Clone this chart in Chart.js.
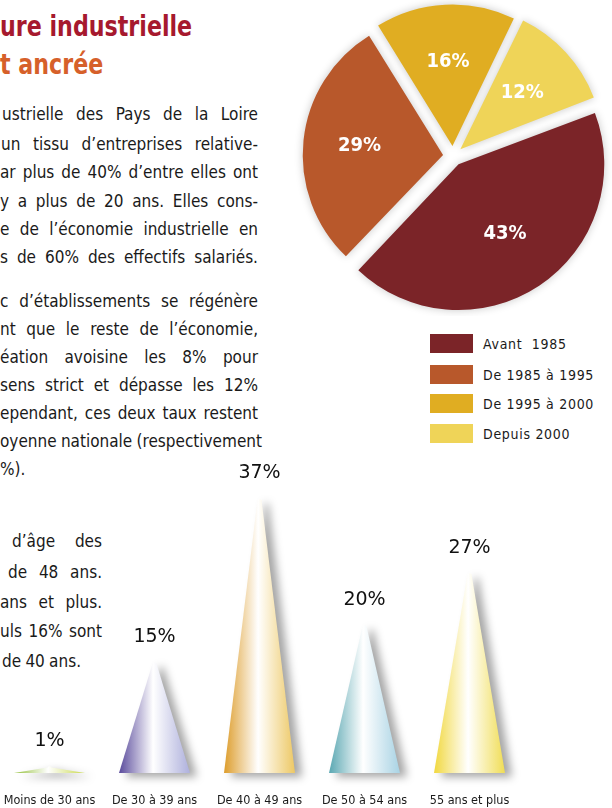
<!DOCTYPE html>
<html lang="fr">
<head>
<meta charset="utf-8">
<script src="https://cdn.jsdelivr.net/npm/chart.js@4.4.1/dist/chart.umd.min.js"></script>
<style>
  html, body { margin: 0; padding: 0; background: #fff; }
  body {
    width: 612px; height: 808px; position: relative; overflow: hidden;
    font-family: "DejaVu Sans Condensed", "DejaVu Sans", sans-serif;
    color: #1a1a1a;
  }
  .title {
    position: absolute; left: 0; font-weight: bold; font-size: 29px; line-height: 30px;
    white-space: nowrap; transform: scaleX(0.85); transform-origin: 0 0;
  }
  .line { position: absolute; font-size: 17px; line-height: 20px; white-space: nowrap; display: flex; }
  .line.just { justify-content: space-between; }
  .line span + span { margin-left: 0.25em; }
  .legend-row { position: absolute; left: 430px; height: 19px; }
  .legend-row .sw { position: absolute; left: 0; top: 0; width: 43px; height: 19px; }
  .legend-row .tx { position: absolute; left: 53px; top: 1px; font-size: 14px; line-height: 18px; white-space: pre; letter-spacing: 0.7px; }
  canvas { position: absolute; }
  #pieChart  { left: 293px; top: -4px; }
  #coneChart { left: -3px; top: 450px; }
</style>
</head>
<body>

<div class="title" style="top:11px;color:#a6192e">ure industrielle</div>
<div class="title" style="top:49px;color:#d6602a">t ancrée</div>

<div id="text"></div>
<div id="legend"></div>

<canvas id="pieChart" width="320" height="320"></canvas>
<canvas id="coneChart" width="525" height="361"></canvas>

<script>
/* ── Data ──────────────────────────────────────────────── */
const pieLabels = ["Avant  1985", "De 1985 à 1995", "De 1995 à 2000", "Depuis 2000"];
const pieValues = [43, 29, 16, 12];
const pieColors = ["#7b2428", "#b8582b", "#e0ad22", "#efd458"];

const ageLabels = ["Moins de 30 ans", "De 30 à 39 ans", "De 40 à 49 ans", "De 50 à 54 ans", "55 ans et plus"];
const ageValues = [1, 15, 37, 20, 27];
const coneDark  = ["#93bf3a", "#5a4b9c", "#dd9d2c", "#5aa7b2", "#f1d83f"];
const coneLight = ["#c9d94e", "#aeb0dc", "#edc864", "#a9d3e4", "#f0dd55"];

/* ── Body text (cropped page, lines as seen) ───────────── */
// [text, left, right, y-centre, justified]
const textLines = [
  ["ustrielle des Pays de la Loire",    2, 258, 115, true],
  ["un tissu d’entreprises relative-",  1, 258, 145, true],
  ["ar plus de 40% d’entre elles ont",  0, 258, 173, true],
  ["y a plus de 20 ans. Elles cons-",   0, 258, 202, true],
  ["e de l’économie industrielle en",   0, 258, 230, true],
  ["s de 60% des effectifs salariés.",  0, 258, 258, true],
  ["c d’établissements se régénère",    0, 258, 302, true],
  ["nt que le reste de l’économie,",    0, 258, 330, true],
  ["éation avoisine les 8% pour",       0, 258, 358, true],
  ["sens strict et dépasse les 12%",    0, 258, 386, true],
  ["ependant, ces deux taux restent",   0, 258, 414, true],
  ["oyenne nationale (respectivement",  0, 258, 442, true],
  ["%).",                               0, 258, 470, false],
  ["d’âge des",                        12, 102, 542, true],
  ["de 48 ans.",                        8, 102, 573, true],
  ["ans et plus.",                      0, 102, 603, true],
  ["uls 16% sont",                      0, 102, 632, true],
  ["de 40 ans.",                        2, 102, 662, false],
];

const textEl = document.getElementById("text");
textLines.forEach(([str, left, right, y, just]) => {
  const div = document.createElement("div");
  div.className = "line" + (just ? " just" : "");
  div.style.left  = left + "px";
  div.style.width = (right - left) + "px";
  div.style.top   = (y - 11) + "px";
  str.split(" ").forEach(w => {
    const s = document.createElement("span");
    s.textContent = w;
    div.appendChild(s);
  });
  textEl.appendChild(div);
});

/* ── Pie legend ────────────────────────────────────────── */
const legendEl = document.getElementById("legend");
const legendTops = [334, 365, 394, 424];
pieLabels.forEach((lab, i) => {
  const row = document.createElement("div");
  row.className = "legend-row";
  row.style.top = legendTops[i] + "px";
  row.innerHTML = `<div class="sw" style="background:${pieColors[i]}"></div><div class="tx"></div>`;
  row.querySelector(".tx").textContent = lab;
  legendEl.appendChild(row);
});

/* ── Pie chart ─────────────────────────────────────────── */
const PIE_OFFSET = 40;   // arc draws offset / 4 as translation

const pieShadow = {
  id: "pieShadow",
  beforeDatasetsDraw(chart) {
    const ctx = chart.ctx;
    ctx.save();
    ctx.shadowColor = "rgba(0,0,0,0.22)";
    ctx.shadowBlur = 9;
  },
  afterDatasetsDraw(chart) {
    chart.ctx.restore();
  },
};

const pieLabelsPlugin = {
  id: "pieLabels",
  afterDatasetsDraw(chart) {
    const ctx = chart.ctx;
    const meta = chart.getDatasetMeta(0);
    ctx.save();
    ctx.fillStyle = "#fff";
    ctx.font = "bold 20px 'DejaVu Sans Condensed', sans-serif";
    ctx.textAlign = "center";
    ctx.textBaseline = "middle";
    meta.data.forEach((arc, i) => {
      const p = arc.getProps(["x", "y", "startAngle", "endAngle", "outerRadius"], true);
      const mid = (p.startAngle + p.endAngle) / 2;
      const d = PIE_OFFSET / 4 + p.outerRadius * 0.6;
      ctx.fillText(pieValues[i] + "%", p.x + Math.cos(mid) * d, p.y + Math.sin(mid) * d);
    });
    ctx.restore();
  },
};

new Chart(document.getElementById("pieChart"), {
  type: "pie",
  data: {
    labels: pieLabels,
    datasets: [{
      data: pieValues,
      backgroundColor: pieColors,
      borderWidth: 0,
      offset: PIE_OFFSET,
    }],
  },
  options: {
    responsive: false,
    animation: false,
    rotation: 69,
    layout: { padding: 0 },
    plugins: { legend: { display: false }, tooltip: { enabled: false } },
  },
  plugins: [pieShadow, pieLabelsPlugin],
});

/* ── Cone chart ────────────────────────────────────────── */
const conePlugin = {
  id: "cones",
  afterDatasetsDraw(chart) {
    const ctx = chart.ctx;
    const meta = chart.getDatasetMeta(0);
    meta.data.forEach((bar, i) => {
      const { x, y, base, width } = bar.getProps(["x", "y", "base", "width"], true);
      const half = width / 2;
      const grad = ctx.createLinearGradient(x - half, 0, x + half, 0);
      grad.addColorStop(0, coneDark[i]);
      grad.addColorStop(0.48, "#ffffff");
      grad.addColorStop(1, coneLight[i]);

      ctx.save();
      ctx.shadowColor = "rgba(0,0,0,0.35)";
      ctx.shadowBlur = 8;
      ctx.shadowOffsetX = 7;
      ctx.shadowOffsetY = 4;
      ctx.beginPath();
      ctx.moveTo(x - half, base);
      ctx.lineTo(x - 2, y + 2);
      ctx.quadraticCurveTo(x, y - 1, x + 2, y + 2);
      ctx.lineTo(x + half, base);
      ctx.closePath();
      ctx.fillStyle = grad;
      ctx.fill();
      ctx.restore();

      ctx.save();
      ctx.fillStyle = "#111";
      ctx.font = "19px 'DejaVu Sans', sans-serif";
      ctx.textAlign = "center";
      ctx.textBaseline = "alphabetic";
      ctx.fillText(ageValues[i] + "%", x, y - 20);
      ctx.restore();
    });
  },
};

new Chart(document.getElementById("coneChart"), {
  type: "bar",
  data: {
    labels: ageLabels,
    datasets: [{
      data: ageValues,
      backgroundColor: "rgba(0,0,0,0)",
      borderWidth: 0,
      categoryPercentage: 1,
      barPercentage: 0.676,
    }],
  },
  options: {
    responsive: false,
    animation: false,
    layout: { padding: { top: 26, left: 0, right: 0, bottom: 0 } },
    plugins: { legend: { display: false }, tooltip: { enabled: false } },
    scales: {
      x: {
        grid: { display: false, drawTicks: true, tickLength: 17 },
        border: { display: false },
        ticks: {
          color: "#1a1a1a",
          padding: 3,
          maxRotation: 0,
          autoSkip: false,
          font: { family: "'DejaVu Sans Condensed', sans-serif", size: 12.5 },
        },
      },
      y: { display: false, min: 0, max: 40 },
    },
  },
  plugins: [conePlugin],
});
</script>
</body>
</html>
